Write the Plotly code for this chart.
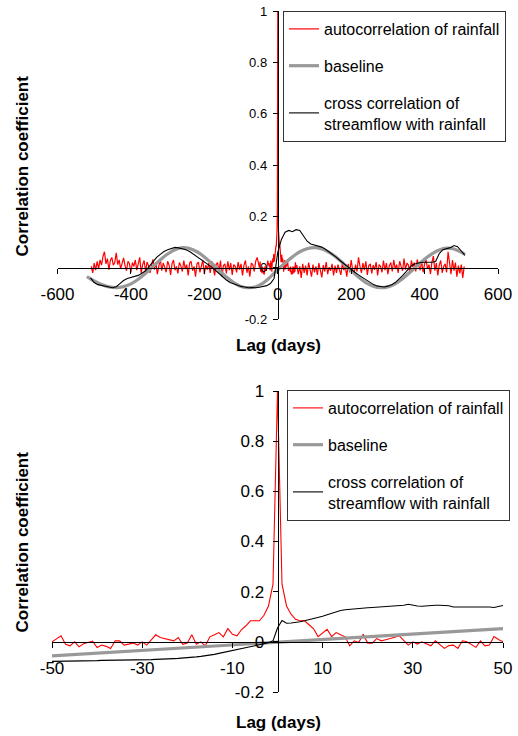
import plotly.graph_objects as go

# ---------------- DATA ----------------
# Top panel: lags -510..510
top_red_left_lags = list(range(-508, -51, 4))
top_red_left = [
    0.005, -0.020, 0.018, -0.010, 0.025, -0.005, 0.030, 0.010, 0.045, 0.062,
    0.015, 0.035, -0.008, 0.028, 0.040, 0.010, 0.020, 0.058, 0.012, 0.030,
    -0.005, 0.022, 0.038, 0.008, -0.012, 0.025, 0.015, -0.018, 0.020, 0.005,
    0.030, -0.010, 0.018, 0.040, -0.022, 0.012, 0.028, -0.015, 0.022, 0.008,
    -0.020, 0.015, 0.032, -0.008, 0.020, -0.025, 0.010, 0.035, -0.012, 0.018,
    0.002, -0.018, 0.025, 0.010, -0.028, 0.015, 0.030, -0.010, 0.005, -0.022,
    0.020, 0.008, -0.015, 0.028, -0.005, 0.012, -0.030, 0.018, 0.025, -0.012,
    0.005, -0.035, 0.015, 0.022, -0.018, 0.008, 0.030, -0.025, 0.010, -0.008,
    0.018, -0.020, 0.025, 0.002, -0.030, 0.012, 0.020, -0.015, 0.028, -0.035,
    0.008, 0.015, -0.022, 0.025, -0.010, 0.018, -0.028, 0.012, 0.005, -0.018,
    0.022, -0.008, 0.015, -0.030, 0.010, 0.028, -0.020, 0.005, -0.035, 0.018,
    0.012, -0.015, 0.025, 0.040, 0.020,
]
top_red_right_lags = list(range(52, 509, 4))
top_red_right = [
    0.010, -0.025, 0.005, -0.040, 0.015, -0.020, 0.008, -0.030, 0.020, -0.010,
    -0.035, 0.012, -0.018, 0.005, -0.028, 0.018, -0.008, -0.038, 0.010, -0.015,
    0.022, -0.025, 0.002, -0.012, 0.015, -0.030, 0.008, -0.020, 0.012, -0.005,
    -0.028, 0.018, -0.010, 0.005, -0.035, 0.015, -0.018, 0.030, -0.008, -0.025,
    0.012, -0.015, 0.040, 0.005, -0.020, 0.018, -0.010, 0.025, -0.028, 0.008,
    0.015, -0.022, 0.010, -0.008, 0.022, -0.030, 0.012, 0.005, -0.018, 0.028,
    -0.010, 0.018, -0.025, 0.008, 0.020, -0.015, 0.030, -0.005, 0.012, -0.020,
    0.025, 0.005, -0.012, 0.035, -0.008, 0.018, 0.010, -0.022, 0.028, 0.002,
    0.020, -0.015, 0.032, 0.008, -0.010, 0.025, -0.018, 0.015, 0.030, -0.005,
    0.012, -0.025, 0.022, 0.045, -0.012, 0.018, -0.030, 0.010, 0.028, -0.020,
    0.005, 0.015, -0.018, 0.062, 0.010, -0.025, 0.030, -0.012, 0.020, -0.035,
    0.008, -0.022, 0.012, -0.040, 0.005,
]

top_base_lags = [-520, -500, -480, -460, -440, -420, -400, -380, -360, -340,
                 -320, -300, -280, -260, -240, -220, -200, -180, -160, -140,
                 -120, -100, -80, -60, -40, -20, 0, 20, 40, 60, 80, 100, 120,
                 140, 160, 180, 200, 220, 240, 260, 280, 300, 320, 340, 360,
                 380, 400, 420, 440, 460, 480, 500, 510]
top_base = [-0.035, -0.052, -0.066, -0.075, -0.078, -0.074, -0.063, -0.045,
            -0.022, 0.005, 0.030, 0.053, 0.070, 0.078, 0.075, 0.062, 0.042,
            0.017, -0.010, -0.036, -0.058, -0.073, -0.078, -0.074, -0.060,
            -0.036, -0.008, 0.018, 0.042, 0.062, 0.074, 0.078, 0.073, 0.060,
            0.040, 0.015, -0.012, -0.037, -0.058, -0.072, -0.078, -0.075,
            -0.063, -0.043, -0.018, 0.008, 0.033, 0.054, 0.069, 0.076, 0.073,
            0.060, 0.052]

top_cross_lags = list(range(-510, 511, 10))
top_cross = [
    -0.040, -0.058, -0.066, -0.070, -0.073, -0.075, -0.078, -0.074, -0.062, -0.050,
    -0.042, -0.038, -0.035, -0.030, -0.022, -0.012, 0.005, 0.025, 0.040, 0.052,
    0.063, 0.070, 0.076, 0.079, 0.077, 0.074, 0.070, 0.063, 0.053, 0.045,
    0.035, 0.024, 0.013, 0.002, -0.010, -0.024, -0.037, -0.048, -0.058, -0.064,
    -0.069, -0.073, -0.075, -0.078, -0.077, -0.078, -0.076, -0.073, -0.070, -0.062,
    -0.042, 0.060, 0.110, 0.138, 0.145, 0.140, 0.148, 0.145, 0.125, 0.103,
    0.092, 0.088, 0.086, 0.080, 0.072, 0.062, 0.052, 0.040, 0.027, 0.015,
    0.004, -0.008, -0.018, -0.028, -0.038, -0.048, -0.058, -0.065, -0.071, -0.074,
    -0.075, -0.072, -0.067, -0.058, -0.045, -0.031, -0.015, 0.002, 0.013, 0.018,
    0.020, 0.021, 0.020, 0.021, 0.024, 0.055, 0.070, 0.073, 0.078, 0.086,
    0.082, 0.065, 0.048,
]

# Bottom panel: lags -50..50 (daily)
lags_daily = list(range(-50, 51))
rain_auto = [
    0.0, 0.012, 0.024, -0.01, -0.016, 0.0, -0.02, -0.008, -0.002, 0.003,
    -0.023, -0.013, -0.018, -0.027, 0.004, 0.004, -0.013, -0.008, -0.005, -0.013,
    0.0, -0.013, 0.008, 0.028, 0.017, 0.013, 0.008, 0.004, 0.017, -0.01,
    -0.005, 0.028, -0.01, 0.0, -0.016, 0.02, 0.028, 0.037, 0.02, 0.053,
    0.03, 0.024, 0.048, 0.064, 0.084, 0.084, 0.084, 0.106, 0.143, 0.23,
    1.0,
    0.23, 0.143, 0.11, 0.09, 0.084, 0.084, 0.068, 0.052, 0.021, 0.035,
    0.05, 0.021, 0.037, 0.028, 0.02, -0.016, 0.004, -0.003, 0.03, -0.005,
    -0.005, 0.013, 0.004, 0.008, 0.012, 0.018, 0.024, 0.005, -0.013, 0.0,
    -0.009, 0.0, -0.008, -0.016, 0.004, -0.01, -0.026, -0.015, -0.013, -0.026,
    0.004, 0.0, -0.01, -0.022, 0.004, -0.016, -0.013, 0.021, 0.009, 0.0,
]
cross_daily = [
    -0.078, -0.078, -0.077, -0.077, -0.076, -0.076, -0.076, -0.075, -0.075, -0.075,
    -0.075, -0.074, -0.074, -0.074, -0.074, -0.074, -0.073, -0.073, -0.073, -0.072,
    -0.072, -0.071, -0.071, -0.070, -0.070, -0.069, -0.068, -0.067, -0.066, -0.065,
    -0.064, -0.062, -0.060, -0.058, -0.056, -0.054, -0.050, -0.046, -0.042, -0.038,
    -0.034, -0.030, -0.026, -0.022, -0.018, -0.014, -0.010, -0.007, -0.004, 0.004,
    0.055,
    0.085, 0.074, 0.075, 0.077, 0.080, 0.084, 0.088, 0.092, 0.097, 0.102,
    0.108, 0.114, 0.120, 0.125, 0.128, 0.130, 0.132, 0.133, 0.134, 0.136,
    0.137, 0.138, 0.139, 0.141, 0.141, 0.142, 0.143, 0.146, 0.150, 0.146,
    0.143, 0.142, 0.144, 0.146, 0.146, 0.146, 0.146, 0.144, 0.139, 0.139,
    0.140, 0.141, 0.141, 0.140, 0.141, 0.141, 0.139, 0.137, 0.141, 0.145,
]
base_lags_b = [-50, -40, -30, -20, -10, 0, 10, 20, 30, 40, 50]
base_b = [-0.056, -0.045, -0.034, -0.023, -0.011, 0.0, 0.011, 0.022, 0.032, 0.043, 0.053]

# Axis ticks
top_xticks = [-600, -400, -200, 0, 200, 400, 600]
top_xtext = ["-600", "-400", "-200", "0", "200", "400", "600"]
bot_xticks = [-50, -30, -10, 10, 30, 50]
bot_xtext = ["-50", "-30", "-10", "10", "30", "50"]
yticks = [-0.2, 0, 0.2, 0.4, 0.6, 0.8, 1]
ytext = ["-0.2", "0", "0.2", "0.4", "0.6", "0.8", "1"]

names = ["autocorrelation of rainfall", "baseline",
         "cross correlation of<br>streamflow with rainfall"]

# ---------------- FIGURE ----------------
W, H = 518, 736
FONT = "Liberation Sans, Arial, sans-serif"

top_xdom = [57.5 / W, 498 / W]
top_ydom = [1 - 319 / H, 1 - 11 / H]
bot_xdom = [52 / W, 503 / W]
bot_ydom = [1 - 692 / H, 1 - 391 / H]

def ypos(dom, lo, hi):
    return dom[0] + (0 - lo) / (hi - lo) * (dom[1] - dom[0])

fig = go.Figure()

top_red_x = top_red_left_lags + lags_daily + top_red_right_lags
top_red_y = top_red_left + rain_auto + top_red_right

fig.add_trace(go.Scatter(x=top_red_x, y=top_red_y, mode="lines", name=names[0],
                         line=dict(color="#ff0000", width=1.2),
                         xaxis="x", yaxis="y", legend="legend", legendgroup="a"))
fig.add_trace(go.Scatter(x=top_base_lags, y=top_base, mode="lines", name=names[1],
                         line=dict(color="#999999", width=3.2, shape="spline"),
                         xaxis="x", yaxis="y", legend="legend", legendgroup="b"))
fig.add_trace(go.Scatter(x=top_cross_lags, y=top_cross, mode="lines", name=names[2],
                         line=dict(color="#000000", width=1.1),
                         xaxis="x", yaxis="y", legend="legend", legendgroup="c"))

fig.add_trace(go.Scatter(x=lags_daily, y=rain_auto, mode="lines", name=names[0],
                         line=dict(color="#ff0000", width=1.1),
                         xaxis="x2", yaxis="y2", legend="legend2", legendgroup="a2"))
fig.add_trace(go.Scatter(x=base_lags_b, y=base_b, mode="lines", name=names[1],
                         line=dict(color="#999999", width=3.2),
                         xaxis="x2", yaxis="y2", legend="legend2", legendgroup="b2"))
fig.add_trace(go.Scatter(x=lags_daily, y=cross_daily, mode="lines", name=names[2],
                         line=dict(color="#000000", width=1.1),
                         xaxis="x2", yaxis="y2", legend="legend2", legendgroup="c2"))

xcommon = dict(showgrid=False, zeroline=False, showline=True, linecolor="black",
               linewidth=1, ticks="outside", ticklen=5, tickcolor="black",
               tickfont=dict(family=FONT, size=17, color="black"),
               anchor="free", ticklabelstandoff=6)
ycommon = dict(showgrid=False, zeroline=False, showline=True, linecolor="black",
               linewidth=1, ticks="outside", ticklen=5, tickcolor="black",
               anchor="free", range=[-0.2, 1], tickvals=yticks, ticktext=ytext)

top_x0 = top_xdom[0] + (0 + 600) / 1200 * (top_xdom[1] - top_xdom[0])
bot_x0 = bot_xdom[0] + (0 + 50) / 100 * (bot_xdom[1] - bot_xdom[0])

legend_common = dict(xanchor="left", yanchor="top", bgcolor="white",
                     bordercolor="#333333", borderwidth=1,
                     font=dict(family=FONT, size=16, color="black"),
                     tracegroupgap=13, itemwidth=30)

fig.update_layout(
    width=W, height=H, autosize=False,
    margin=dict(l=0, r=0, t=0, b=0, pad=0, autoexpand=False),
    paper_bgcolor="white", plot_bgcolor="white",
    font=dict(family=FONT, color="black"),
    xaxis=dict(domain=top_xdom, range=[-600, 600], tickvals=top_xticks,
               ticktext=top_xtext, position=ypos(top_ydom, -0.2, 1), **xcommon),
    yaxis=dict(domain=top_ydom, position=top_x0,
               tickfont=dict(family=FONT, size=13, color="black"),
               ticklabelstandoff=3, **ycommon),
    xaxis2=dict(domain=bot_xdom, range=[-50, 50], tickvals=bot_xticks,
                ticktext=bot_xtext, position=ypos(bot_ydom, -0.2, 1), **xcommon),
    yaxis2=dict(domain=bot_ydom, position=bot_x0,
                tickfont=dict(family=FONT, size=17, color="black"),
                ticklabelstandoff=5, **ycommon),
    legend=dict(x=283 / W, y=1 - 11 / H, **legend_common),
    legend2=dict(x=287 / W, y=1 - 390 / H, **legend_common),
    showlegend=True,
)

title_font = dict(family=FONT, size=17, color="black", weight="bold")
fig.add_annotation(text="Lag (days)", x=278 / W, y=1 - 345 / H, xref="paper",
                   yref="paper", showarrow=False, font=title_font,
                   xanchor="center", yanchor="middle")
fig.add_annotation(text="Lag (days)", x=278 / W, y=1 - 722 / H, xref="paper",
                   yref="paper", showarrow=False, font=title_font,
                   xanchor="center", yanchor="middle")
fig.add_annotation(text="Correlation coefficient", x=22 / W, y=1 - 166.5 / H,
                   xref="paper", yref="paper", showarrow=False, font=title_font,
                   textangle=-90, xanchor="center", yanchor="middle")
fig.add_annotation(text="Correlation coefficient", x=22 / W, y=1 - 542.5 / H,
                   xref="paper", yref="paper", showarrow=False, font=title_font,
                   textangle=-90, xanchor="center", yanchor="middle")

fig.write_html("out.html")
